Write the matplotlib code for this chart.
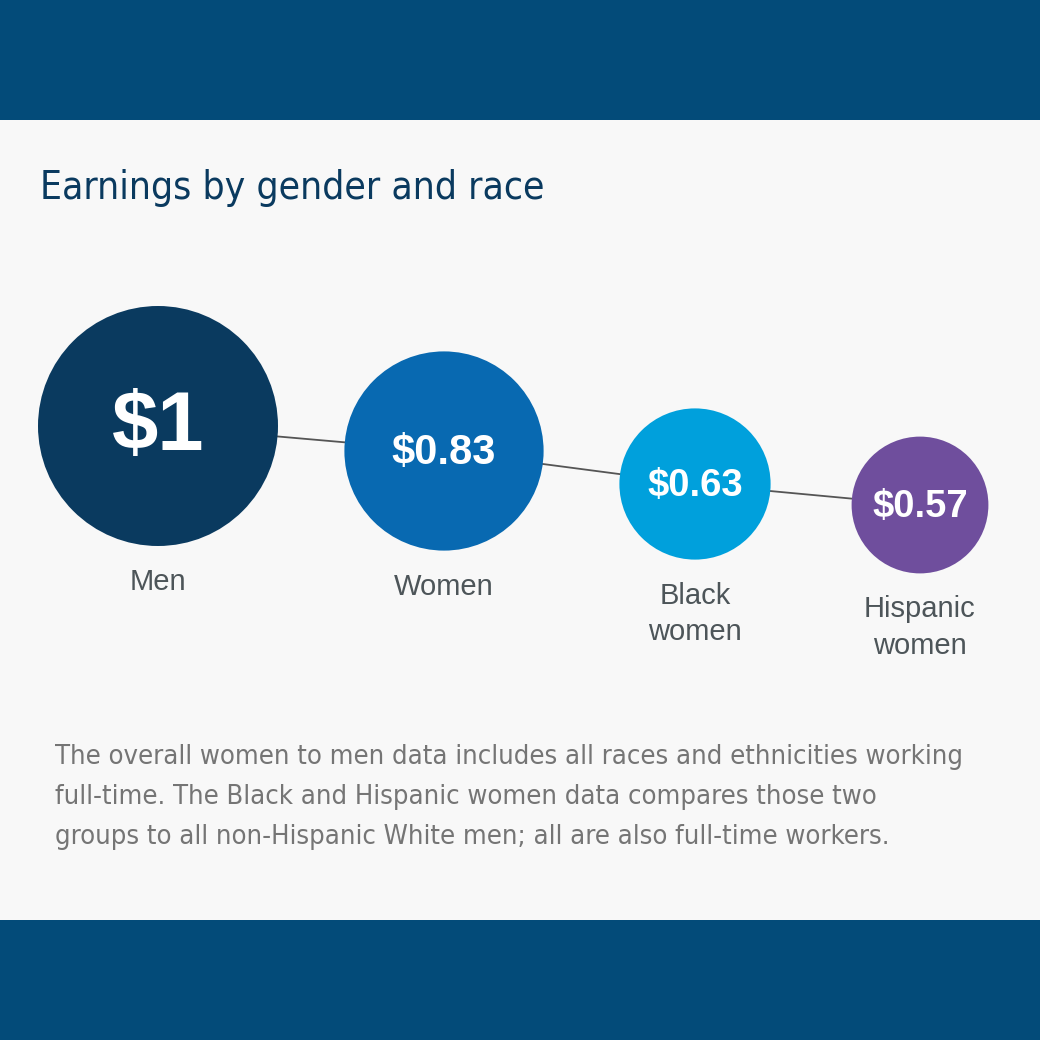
import matplotlib.pyplot as plt
from matplotlib.patches import Circle, Rectangle

# data
groups = ["Men", "Women", "Black\nwomen", "Hispanic\nwomen"]
earnings = [1.00, 0.83, 0.63, 0.57]
value_labels = ["$1", "$0.83", "$0.63", "$0.57"]
colors = ["#0a3a5f", "#0869b1", "#00a0dc", "#6f4e9d"]

title = "Earnings by gender and race"
note = ("The overall women to men data includes all races and ethnicities working\n"
        "full-time. The Black and Hispanic women data compares those two\n"
        "groups to all non-Hispanic White men; all are also full-time workers.")

# layout (pixel space)
cx = [158, 444, 695, 920]
cy = [426, 451, 484, 505]
r_scale = 120
value_sizes = [60, 30, 27.5, 27.5]

band = "#034b79"

fig = plt.figure(figsize=(10.4, 10.4), dpi=100)
fig.patch.set_facecolor("#f8f8f8")
ax = fig.add_axes([0, 0, 1, 1])
ax.set_xlim(0, 1040)
ax.set_ylim(1040, 0)
ax.set_aspect("equal")
ax.axis("off")

ax.add_patch(Rectangle((0, 0), 1040, 120, color=band, lw=0))
ax.add_patch(Rectangle((0, 920), 1040, 120, color=band, lw=0))

ax.text(40, 188, title, fontsize=28, color="#0a3a5f", family="DejaVu Sans",
        stretch="condensed", ha="left", va="center")

# connecting line
ax.plot(cx, cy, color="#555555", lw=1.3, zorder=1)

for x, y, v, lab, txt, c, fs in zip(cx, cy, earnings, groups, value_labels,
                                    colors, value_sizes):
    r = v * r_scale
    ax.add_patch(Circle((x, y), r, color=c, lw=0, zorder=2))
    ax.text(x, y + 2, txt, fontsize=fs, color="white", weight="bold",
            family="Liberation Sans", ha="center", va="center", zorder=3)
    ax.text(x, y + r + 22, lab, fontsize=21, color="#4d5559",
            family="Liberation Sans", ha="center", va="top",
            linespacing=1.4, zorder=3)

ax.text(55, 797, note, fontsize=19.6, color="#757575", family="DejaVu Sans",
        stretch="condensed", ha="left", va="center", linespacing=1.68)

fig.savefig("out.png", dpi=100, facecolor=fig.get_facecolor())
